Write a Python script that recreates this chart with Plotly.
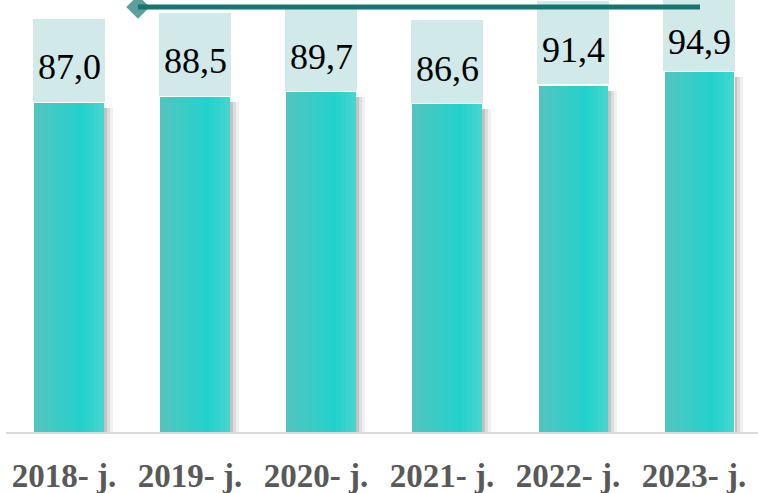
import plotly.graph_objects as go

years = ["2018- j.", "2019- j.", "2020- j.", "2021- j.", "2022- j.", "2023- j."]
values = [87.0, 88.5, 89.7, 86.6, 91.4, 94.9]
value_labels = ["87,0", "88,5", "89,7", "86,6", "91,4", "94,9"]
line_values = [111.4, 111.4, 111.4, 111.4, 111.4, 111.4]

Y_MIN, Y_MAX = 3.1, 113.2
BOX_H = 21.2
GAP = 0.28
SERIF = "Liberation Serif"

fig = go.Figure()

# shadow
for extra, alpha in [(0.07, 0.06), (0.045, 0.08), (0.022, 0.12)]:
    left = -0.2
    right = 0.2815 + extra
    fig.add_trace(go.Bar(x=years, y=[v - 1.3 for v in values], offset=left, width=right - left,
                         marker=dict(color=f"rgba(0,0,0,{alpha})", line=dict(width=0)),
                         hoverinfo="skip", showlegend=False))

# white border
fig.add_trace(go.Bar(x=years, y=values, offset=-0.2815, width=0.563,
                     marker=dict(color="white", line=dict(width=0)),
                     hoverinfo="skip", showlegend=False))

# gradient strips
N = 14
W = 0.548
c0 = (84, 196, 192)
c1 = (34, 210, 204)
c2 = (72, 214, 208)
for i in range(N):
    t = (i + 0.5) / N
    if t < 0.68:
        s = t / 0.68
        c = tuple(int(c0[k] + (c1[k] - c0[k]) * s) for k in range(3))
    else:
        s = (t - 0.68) / 0.32
        c = tuple(int(c1[k] + (c2[k] - c1[k]) * s) for k in range(3))
    w = W / N
    fig.add_trace(go.Bar(x=years, y=values, offset=-W / 2 + i * w, width=w * 1.15 if i < N - 1 else w,
                         marker=dict(color=f"rgb{c}", line=dict(width=0)),
                         hoverinfo="skip", showlegend=False))

# label boxes
fig.add_trace(go.Bar(x=years, y=[BOX_H] * len(values), base=[v + GAP for v in values],
                     offset=-0.2857, width=0.5714,
                     marker=dict(color="#d1eae9", line=dict(width=0)),
                     hoverinfo="skip", showlegend=False))

# line series
fig.add_trace(go.Scatter(x=years, y=line_values, xaxis="x2", mode="lines+markers",
                         line=dict(color="#177570", width=5),
                         marker=dict(symbol="diamond", size=[18, 0, 0, 0, 0, 0], color="#177570",
                                     line=dict(width=0)),
                         hoverinfo="skip", showlegend=False, cliponaxis=False))

for yr, v, lab in zip(years, values, value_labels):
    lo = v + GAP
    hi = min(v + GAP + BOX_H, Y_MAX)
    fig.add_annotation(x=yr, y=(lo + hi) / 2, xref="x", yref="y", text=lab, showarrow=False,
                       font=dict(family=SERIF, size=36, color="black"),
                       yanchor="middle", xanchor="center", yshift=-7)

fig.update_layout(
    width=758, height=493,
    margin=dict(l=6, r=0, t=0, b=61, autoexpand=False),
    paper_bgcolor="white", plot_bgcolor="white",
    barmode="overlay", bargap=0,
    showlegend=False,
    xaxis=dict(type="category", range=[-0.5, 5.468], showgrid=False, zeroline=False,
               showline=True, linecolor="#d9d9d9", linewidth=2, ticks="",
               tickfont=dict(family=SERIF, size=33, color="#595959", weight="bold"),
               ticklabelshift=-5, ticklabelstandoff=13, automargin=False),
    xaxis2=dict(type="category", overlaying="x", range=[-1.174, 5.516], visible=False),
    yaxis=dict(range=[Y_MIN, Y_MAX], visible=False, showgrid=False, zeroline=False, automargin=False),
)

fig.write_html("out.html", config={"displayModeBar": False},
               post_script="document.body.style.margin='0';document.body.style.overflow='hidden';")
